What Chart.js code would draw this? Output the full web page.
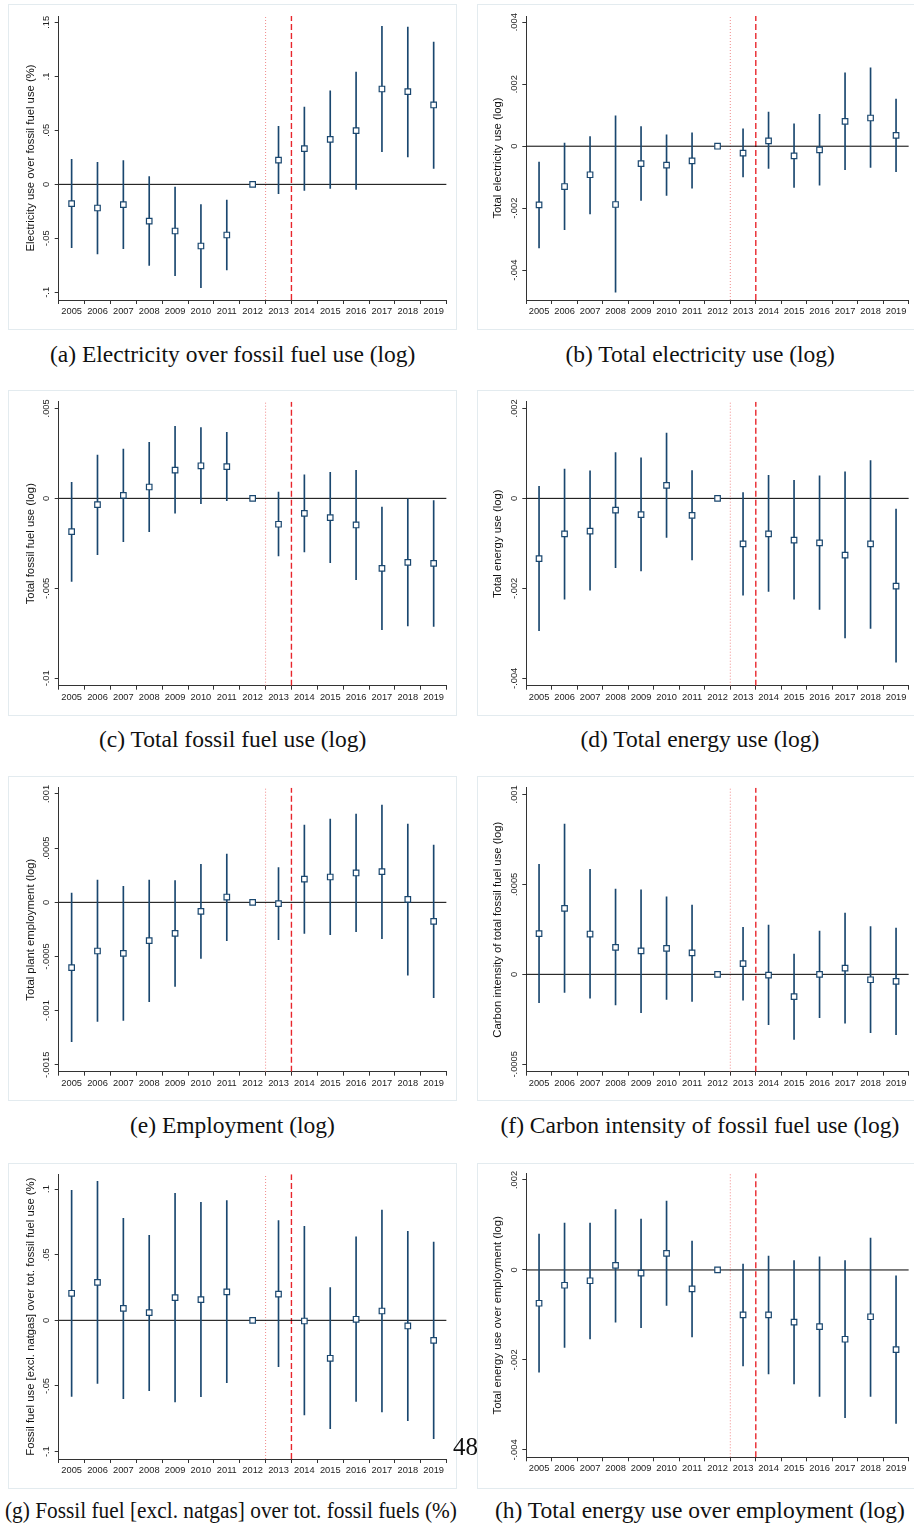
<!DOCTYPE html>
<html>
<head>
<meta charset="utf-8">
<script src="https://cdn.jsdelivr.net/npm/chart.js@4.4.1/dist/chart.umd.min.js"></script>
<style>
  html, body { margin: 0; padding: 0; background: #fff; }
  body { width: 914px; height: 1529px; position: relative; overflow: hidden; }
  .box { position: absolute; border: 1px solid #e3ebef; box-sizing: border-box; }
  canvas { position: absolute; }
  .cap { position: absolute; font-family: "Liberation Serif", "Times New Roman", serif;
         font-size: 23.5px; line-height: 23.5px; white-space: nowrap; color: #111; }
  .pageno { position: absolute; font-family: "Liberation Serif", "Times New Roman", serif;
            font-size: 25px; line-height: 25px; color: #111; }
</style>
</head>
<body>
<script>
// ---- event-study coefficients by year (point estimate, lower and upper 95% CI) ----
const years = [2005, 2006, 2007, 2008, 2009, 2010, 2011, 2012, 2013, 2014, 2015, 2016, 2017, 2018, 2019];

// (a) Electricity use over fossil fuel use
const elecFossilEst = [-0.0179, -0.0219, -0.0188, -0.034, -0.0432, -0.0571, -0.0469, 0, 0.0225, 0.033, 0.0417, 0.0497, 0.0883, 0.0858, 0.0735];
const elecFossilLo  = [-0.0586, -0.0645, -0.0596, -0.075, -0.0846, -0.0957, -0.0793, 0, -0.0086, -0.0056, -0.0037, -0.0046, 0.0302, 0.0253, 0.0148];
const elecFossilHi  = [0.0231, 0.0204, 0.0219, 0.0071, -0.0025, -0.0188, -0.0145, 0, 0.0537, 0.0716, 0.0867, 0.104, 0.1463, 0.1457, 0.1318];

// (b) Total electricity use
const totElecEst = [-0.00189, -0.0013, -0.00092, -0.00188, -0.00056, -0.00061, -0.00047, 0, -0.00022, 0.00017, -0.00031, -0.00012, 0.0008, 0.00091, 0.00035];
const totElecLo  = [-0.00328, -0.00269, -0.00218, -0.00471, -0.00175, -0.00159, -0.00135, 0, -0.00099, -0.00072, -0.00133, -0.00126, -0.00076, -0.00068, -0.00082];
const totElecHi  = [-0.00051, 0.0001, 0.00031, 0.00098, 0.00063, 0.00037, 0.00043, 0, 0.00056, 0.0011, 0.00072, 0.00103, 0.00237, 0.00253, 0.00152];

// (c) Total fossil fuel use
const fossilEst = [-0.00185, -0.00035, 0.00017, 0.00063, 0.00157, 0.00181, 0.00176, 0, -0.00144, -0.00083, -0.00107, -0.00148, -0.00389, -0.00356, -0.00361];
const fossilLo  = [-0.00461, -0.00313, -0.00241, -0.00185, -0.00083, -0.0003, -0.00013, 0, -0.0032, -0.00298, -0.00357, -0.00452, -0.0073, -0.00709, -0.00711];
const fossilHi  = [0.00089, 0.00241, 0.00274, 0.00311, 0.004, 0.00393, 0.00367, 0, 0.00035, 0.0013, 0.00144, 0.00156, -0.00048, 0, -0.00013];

// (d) Total energy use
const energyEst = [-0.00134, -0.00079, -0.00073, -0.00026, -0.00036, 0.00029, -0.00038, 0, -0.00101, -0.00079, -0.00093, -0.00099, -0.00126, -0.00101, -0.00195];
const energyLo  = [-0.00294, -0.00224, -0.00204, -0.00154, -0.00161, -0.00087, -0.00137, 0, -0.00215, -0.00207, -0.00224, -0.00247, -0.0031, -0.00289, -0.00364];
const energyHi  = [0.00027, 0.00065, 0.00061, 0.00102, 0.0009, 0.00145, 0.00062, 0, 0.00013, 0.00051, 0.0004, 0.0005, 0.00059, 0.00084, -0.00024];

// (e) Total plant employment
const employEst = [-0.000603, -0.000449, -0.000471, -0.000354, -0.000286, -0.000083, 0.000049, 0, -0.000012, 0.000215, 0.000234, 0.000271, 0.000283, 0.000028, -0.000175];
const employLo  = [-0.001286, -0.0011, -0.00109, -0.000917, -0.000775, -0.000517, -0.000354, 0, -0.000345, -0.000286, -0.000298, -0.000271, -0.000335, -0.000671, -0.00088];
const employHi  = [0.000086, 0.000206, 0.000148, 0.000206, 0.0002, 0.000351, 0.000446, 0, 0.00032, 0.000714, 0.000769, 0.000815, 0.000898, 0.000723, 0.000529];

// (f) Carbon intensity of total fossil fuel use
const carbonEst = [0.000226, 0.000367, 0.000224, 0.00015, 0.00013, 0.000144, 0.000119, 0, 0.000059, -0.000004, -0.000124, 0, 0.000035, -0.00003, -0.000039];
const carbonLo  = [-0.000157, -0.0001, -0.000133, -0.00017, -0.000213, -0.000139, -0.00015, 0, -0.000143, -0.00028, -0.000361, -0.000241, -0.000272, -0.000324, -0.000335];
const carbonHi  = [0.000611, 0.000835, 0.000583, 0.000474, 0.000469, 0.00043, 0.000385, 0, 0.000261, 0.000274, 0.000113, 0.000241, 0.000341, 0.000265, 0.000257];

// (g) Fossil fuel use excl. natural gas over total fossil fuel use
const nonGasEst = [0.0206, 0.0289, 0.0091, 0.0058, 0.0173, 0.0157, 0.0216, 0, 0.02, -0.0005, -0.0289, 0.0008, 0.0071, -0.0043, -0.0152];
const nonGasLo  = [-0.0579, -0.048, -0.0596, -0.0536, -0.0622, -0.0581, -0.0475, 0, -0.0353, -0.0721, -0.0825, -0.0617, -0.0698, -0.0764, -0.0901];
const nonGasHi  = [0.099, 0.1058, 0.0777, 0.0647, 0.0967, 0.0898, 0.0911, 0, 0.0759, 0.0716, 0.0249, 0.0635, 0.084, 0.0678, 0.0596];

// (h) Total energy use over employment
const energyEmpEst = [-0.00074, -0.00034, -0.00024, 0.0001, -0.00007, 0.00037, -0.00042, 0, -0.001, -0.001, -0.00116, -0.00126, -0.00154, -0.00104, -0.00177];
const energyEmpLo  = [-0.00227, -0.00172, -0.00153, -0.00116, -0.00128, -0.00079, -0.00149, 0, -0.00213, -0.00231, -0.00253, -0.00281, -0.00328, -0.00281, -0.00341];
const energyEmpHi  = [0.0008, 0.00104, 0.00104, 0.00134, 0.00113, 0.00153, 0.00064, 0, 0.00013, 0.00031, 0.00021, 0.00029, 0.00021, 0.00071, -0.00013];

// ---- y-axis ticks and their labels ----
const ticksA = [-0.1, -0.05, 0, 0.05, 0.1, 0.15];
const labelsA = ['-.1', '-.05', '0', '.05', '.1', '.15'];
const ticksB = [-0.004, -0.002, 0, 0.002, 0.004];
const labelsB = ['-.004', '-.002', '0', '.002', '.004'];
const ticksC = [-0.01, -0.005, 0, 0.005];
const labelsC = ['-.01', '-.005', '0', '.005'];
const ticksD = [-0.004, -0.002, 0, 0.002];
const labelsD = ['-.004', '-.002', '0', '.002'];
const ticksE = [-0.0015, -0.001, -0.0005, 0, 0.0005, 0.001];
const labelsE = ['-.0015', '-.001', '-.0005', '0', '.0005', '.001'];
const ticksF = [-0.0005, 0, 0.0005, 0.001];
const labelsF = ['-.0005', '0', '.0005', '.001'];
const ticksG = [-0.1, -0.05, 0, 0.05, 0.1];
const labelsG = ['-.1', '-.05', '0', '.05', '.1'];
const ticksH = [-0.004, -0.002, 0, 0.002];
const labelsH = ['-.004', '-.002', '0', '.002'];

// ---- axis ranges (plot region) ----
const rangeA = [-0.1071, 0.1559];
const rangeB = [-0.00496, 0.0042];
const rangeC = [-0.01041, 0.00537];
const rangeD = [-0.004163, 0.002148];
const rangeE = [-0.001563, 0.001058];
const rangeF = [-0.000541, 0.001037];
const rangeG = [-0.1056, 0.1112];
const rangeH = [-0.004163, 0.002148];

// Reform timing: dotted line before the announcement year, dashed line at the start
const preLine = 2012.5;
const reformLine = 2013.5;

// ---- panel assembly ----
const NAVY = '#1a476f';
const SANS = '"Liberation Sans", Arial, Helvetica, sans-serif';

const panels = [
  { est: elecFossilEst, lo: elecFossilLo, hi: elecFossilHi, ticks: ticksA, labels: labelsA, range: rangeA,
    ytitle: 'Electricity use over fossil fuel use (%)', caption: '(a) Electricity over fossil fuel use (log)' },
  { est: totElecEst, lo: totElecLo, hi: totElecHi, ticks: ticksB, labels: labelsB, range: rangeB,
    ytitle: 'Total electricity use (log)', caption: '(b) Total electricity use (log)' },
  { est: fossilEst, lo: fossilLo, hi: fossilHi, ticks: ticksC, labels: labelsC, range: rangeC,
    ytitle: 'Total fossil fuel use (log)', caption: '(c) Total fossil fuel use (log)' },
  { est: energyEst, lo: energyLo, hi: energyHi, ticks: ticksD, labels: labelsD, range: rangeD,
    ytitle: 'Total energy use (log)', caption: '(d) Total energy use (log)' },
  { est: employEst, lo: employLo, hi: employHi, ticks: ticksE, labels: labelsE, range: rangeE,
    ytitle: 'Total plant employment (log)', caption: '(e) Employment (log)' },
  { est: carbonEst, lo: carbonLo, hi: carbonHi, ticks: ticksF, labels: labelsF, range: rangeF,
    ytitle: 'Carbon intensity of total fossil fuel use (log)', caption: '(f) Carbon intensity of fossil fuel use (log)' },
  { est: nonGasEst, lo: nonGasLo, hi: nonGasHi, ticks: ticksG, labels: labelsG, range: rangeG,
    ytitle: 'Fossil fuel use [excl. natgas] over tot. fossil fuel use (%)', caption: '(g) Fossil fuel [excl. natgas] over tot. fossil fuels (%)' },
  { est: energyEmpEst, lo: energyEmpLo, hi: energyEmpHi, ticks: ticksH, labels: labelsH, range: rangeH,
    ytitle: 'Total energy use over employment (log)', caption: '(h) Total energy use over employment (log)' }
];

// page geometry: frame box and plot region for each panel (px)
const frames = [
  { left: 8,   top: 4,    width: 449, height: 326, plotL: 58.7,  plotR: 446.6, plotT: 16,     plotB: 300,    titleC: 22.7, capX: 232.5, capBase: 363 },
  { left: 477, top: 4,    width: 437, height: 326, plotL: 526.3, plotR: 914,   plotT: 16,     plotB: 300,    titleC: 20.7, capX: 700,   capBase: 363 },
  { left: 8,   top: 390,  width: 449, height: 326, plotL: 58.7,  plotR: 446.6, plotT: 401.7,  plotB: 685.7,  titleC: 23.0, capX: 232.5, capBase: 748 },
  { left: 477, top: 390,  width: 437, height: 326, plotL: 526.3, plotR: 914,   plotT: 401.7,  plotB: 685.7,  titleC: 20.7, capX: 700,   capBase: 748 },
  { left: 8,   top: 776,  width: 449, height: 325, plotL: 58.7,  plotR: 446.6, plotT: 787.7,  plotB: 1071.7, titleC: 22.7, capX: 232.5, capBase: 1134 },
  { left: 477, top: 776,  width: 437, height: 325, plotL: 526.3, plotR: 914,   plotT: 787.7,  plotB: 1071.7, titleC: 20.7, capX: 700,   capBase: 1134 },
  { left: 8,   top: 1163, width: 449, height: 326, plotL: 58.7,  plotR: 446.6, plotT: 1174.3, plotB: 1459,   titleC: 22.7, capX: 231,   capBase: 1519, capW: 452 },
  { left: 477, top: 1163, width: 437, height: 326, plotL: 526.3, plotR: 914,   plotT: 1173.3, plotB: 1457.3, titleC: 20.7, capX: 700,   capBase: 1519 }
];

// Rotated y tick labels drawn at the y scale's tick positions
const yTickLabels = {
  id: 'yTickLabels',
  afterDraw(chart, args, opts) {
    const s = chart.scales.y;
    const ctx = chart.ctx;
    ctx.save();
    ctx.font = '9.3px ' + SANS;
    ctx.fillStyle = '#222';
    ctx.textAlign = 'center';
    ctx.textBaseline = 'middle';
    s.ticks.forEach((t) => {
      const idx = opts.values.indexOf(t.value);
      const y = s.getPixelForValue(t.value);
      ctx.save();
      ctx.translate(s.right - 12, y);
      ctx.rotate(-Math.PI / 2);
      ctx.fillText(opts.labels[idx], 0, 0);
      ctx.restore();
    });
    ctx.restore();
  }
};

panels.forEach((p, k) => {
  const f = frames[k];

  const box = document.createElement('div');
  box.className = 'box';
  box.style.left = f.left + 'px';
  box.style.top = f.top + 'px';
  box.style.width = (f.left > 400 ? 460 : f.width) + 'px';
  box.style.height = f.height + 'px';
  document.body.appendChild(box);

  const cv = document.createElement('canvas');
  cv.width = f.width;
  cv.height = f.height;
  cv.style.left = f.left + 'px';
  cv.style.top = f.top + 'px';
  cv.style.width = f.width + 'px';
  cv.style.height = f.height + 'px';
  document.body.appendChild(cv);

  const [yMin, yMax] = p.range;
  const yAxisW = f.plotL - f.left;
  const xAxisH = f.top + f.height - f.plotB;

  new Chart(cv, {
    type: 'scatter',
    data: {
      datasets: [
        { type: 'line', data: [{ x: 2004.5, y: 0 }, { x: 2019.5, y: 0 }],
          borderColor: '#000', borderWidth: 1, pointRadius: 0, order: 4 },
        { type: 'line', data: [{ x: preLine, y: yMin }, { x: preLine, y: yMax }],
          borderColor: '#f08a8a', borderWidth: 1, borderDash: [1, 2], pointRadius: 0, order: 5 },
        { type: 'line', data: [{ x: reformLine, y: yMin }, { x: reformLine, y: yMax }],
          borderColor: '#e8262c', borderWidth: 1.4, borderDash: [6, 3], pointRadius: 0, order: 5 },
        { type: 'bar', data: years.map((yr, i) => ({ x: yr, y: [p.lo[i], p.hi[i]] })),
          backgroundColor: NAVY, borderWidth: 0, barThickness: 1, grouped: false, order: 2 },
        { type: 'scatter', data: years.map((yr, i) => ({ x: yr, y: p.est[i] })),
          pointStyle: 'rect', pointRadius: 3.9, borderWidth: 1.2, borderColor: NAVY,
          backgroundColor: '#ffffff', order: 1 }
      ]
    },
    options: {
      responsive: false,
      animation: false,
      devicePixelRatio: 1,
      events: [],
      layout: { padding: { left: 0, bottom: 0, top: f.plotT - f.top, right: f.left + f.width - f.plotR } },
      plugins: {
        legend: { display: false },
        tooltip: { enabled: false },
        yTickLabels: { values: p.ticks, labels: p.labels }
      },
      scales: {
        x: {
          type: 'linear', min: 2004.5, max: 2019.5, offset: false,
          afterBuildTicks: (s) => { s.ticks = years.map((v) => ({ value: v })); },
          afterFit: (s) => { s.height = xAxisH; },
          ticks: { autoSkip: false, maxRotation: 0, minRotation: 0, padding: 2, color: '#222',
                   font: { family: SANS, size: 9.3 }, callback: (v) => String(v) },
          grid: { display: true, drawOnChartArea: false, drawTicks: true, tickLength: 4, color: '#333', lineWidth: 1 },
          border: { display: true, color: '#333', width: 1 }
        },
        y: {
          type: 'linear', min: yMin, max: yMax, beginAtZero: false,
          afterBuildTicks: (s) => { s.ticks = p.ticks.map((v) => ({ value: v })); },
          afterFit: (s) => { s.width = yAxisW; },
          ticks: { display: false },
          grid: { display: true, drawOnChartArea: false, drawTicks: true, tickLength: 4, color: '#333', lineWidth: 1 },
          border: { display: true, color: '#333', width: 1 },
          title: { display: true, text: p.ytitle, color: '#111',
                   font: { family: SANS, size: 11.3 }, padding: { top: f.titleC - 6.78, bottom: 0 } }
        }
      }
    },
    plugins: [yTickLabels]
  });

  // caption below the panel
  const cap = document.createElement('div');
  cap.className = 'cap';
  cap.textContent = p.caption;
  document.body.appendChild(cap);
  const w = cap.offsetWidth;
  const sx = f.capW ? f.capW / w : 1;
  cap.style.left = (f.capX - w / 2) + 'px';
  cap.style.top = (f.capBase - 19.7) + 'px';
  if (sx !== 1) {
    cap.style.transform = 'scaleX(' + sx + ')';
    cap.style.transformOrigin = 'center';
  }
});

// page number
const pg = document.createElement('div');
pg.className = 'pageno';
pg.textContent = '48';
pg.style.left = '453px';
pg.style.top = (1455 - 21) + 'px';
document.body.appendChild(pg);
</script>
</body>
</html>
